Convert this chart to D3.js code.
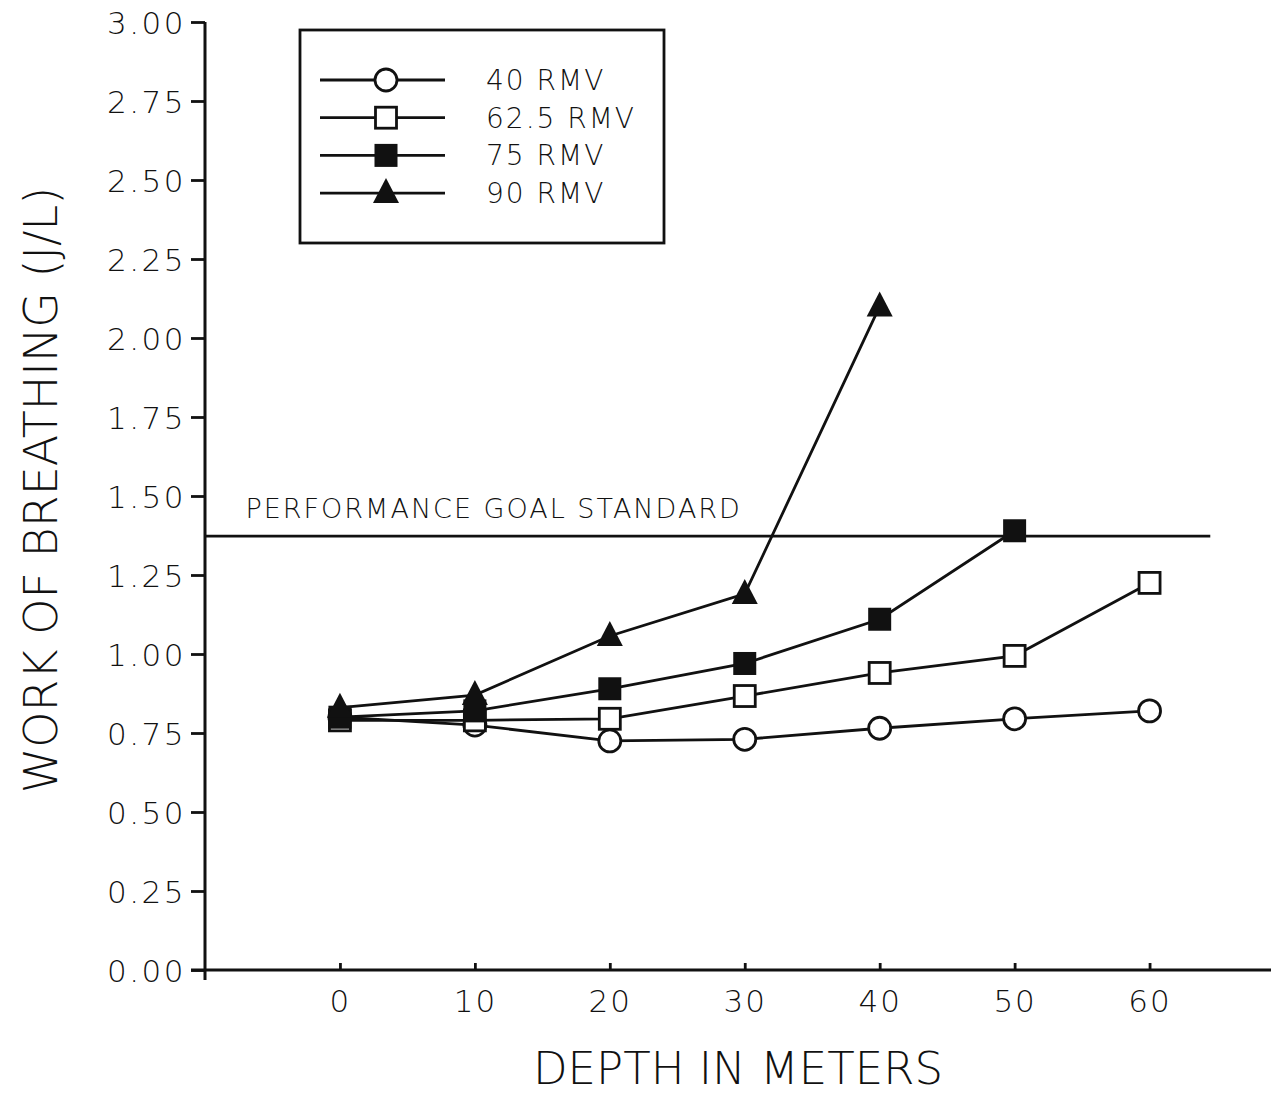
<!DOCTYPE html>
<html>
<head>
<meta charset="utf-8">
<script src="https://cdn.jsdelivr.net/npm/d3@7"></script>
<style>
  body { margin: 0; background: #fff; }
  svg text { font-family: "DejaVu Sans", sans-serif; font-weight: 200; fill: #111; }
</style>
</head>
<body>
<svg id="chart" width="1274" height="1096"></svg>
<script>
// depth in meters
const depths = [0, 10, 20, 30, 40, 50, 60];

// work of breathing (J/L) per series
const rmv40 = [0.80, 0.775, 0.725, 0.73, 0.765, 0.795, 0.82];
const rmv62 = [0.79, 0.79, 0.795, 0.867, 0.94, 0.994, 1.225];
const rmv75 = [0.80, 0.82, 0.89, 0.97, 1.11, 1.39];
const rmv90 = [0.83, 0.87, 1.057, 1.19, 2.10];

const seriesNames = ['40 RMV', '62.5 RMV', '75 RMV', '90 RMV'];
const seriesShapes = ['circle', 'openSquare', 'filledSquare', 'triangle'];
const yTicks = [0, 0.25, 0.5, 0.75, 1.0, 1.25, 1.5, 1.75, 2.0, 2.25, 2.5, 2.75, 3.0];
const goalValue = 1.373;
const goalLabel = 'PERFORMANCE GOAL STANDARD';

const svg = d3.select('#chart');
const x = d3.scaleLinear().domain([-10, 69]).range([205, 1271]);
const y = d3.scaleLinear().domain([0, 3]).range([970, 22]);

const ink = '#111';
const sw = 2.8;

// y axis
const yAxis = svg.append('g')
    .attr('transform', `translate(${x(-10)},0)`)
    .call(d3.axisLeft(y).tickValues(yTicks).tickFormat(d3.format('.2f')).tickSize(14).tickPadding(5));
yAxis.select('.domain').remove();
yAxis.selectAll('line').attr('stroke', ink).attr('stroke-width', sw);
yAxis.selectAll('text').style('font-size', '31px').style('letter-spacing', '2.5px').attr('dy', '0.36em');
svg.append('line')
    .attr('x1', x(-10)).attr('x2', x(-10))
    .attr('y1', y(3)).attr('y2', y(0) + 10)
    .attr('stroke', ink).attr('stroke-width', 3);

// x axis
const xAxis = svg.append('g')
    .attr('transform', `translate(0,${y(0)})`)
    .call(d3.axisBottom(x).tickValues(depths).tickSize(-7).tickPadding(20));
xAxis.select('.domain').remove();
xAxis.selectAll('line').attr('stroke', ink).attr('stroke-width', sw);
xAxis.selectAll('text').style('font-size', '31px').style('letter-spacing', '2px');
svg.append('line')
    .attr('x1', x(-10) - 14).attr('x2', x(69))
    .attr('y1', y(0)).attr('y2', y(0))
    .attr('stroke', ink).attr('stroke-width', 3);

// axis titles
svg.append('text')
    .attr('transform', `translate(57,490) rotate(-90)`)
    .attr('text-anchor', 'middle')
    .style('font-size', '46px')
    .text('WORK OF BREATHING (J/L)');
svg.append('text')
    .attr('x', x(29.5)).attr('y', 1084)
    .attr('text-anchor', 'middle')
    .style('font-size', '45px')
    .text('DEPTH IN METERS');

// performance goal line
svg.append('line')
    .attr('x1', x(-10)).attr('x2', x(64.5))
    .attr('y1', y(goalValue)).attr('y2', y(goalValue))
    .attr('stroke', ink).attr('stroke-width', sw);
svg.append('text')
    .attr('x', x(-7)).attr('y', y(goalValue) - 18)
    .style('font-size', '27px').style('letter-spacing', '2px')
    .text(goalLabel);

// marker drawing
function drawMarker(g, shape, cx, cy) {
    if (shape === 'circle') {
        g.append('circle').attr('cx', cx).attr('cy', cy).attr('r', 11)
            .attr('fill', '#fff').attr('stroke', ink).attr('stroke-width', sw);
    } else if (shape === 'openSquare') {
        g.append('rect').attr('x', cx - 10.5).attr('y', cy - 10.5).attr('width', 21).attr('height', 21)
            .attr('fill', '#fff').attr('stroke', ink).attr('stroke-width', sw);
    } else if (shape === 'filledSquare') {
        g.append('rect').attr('x', cx - 11.5).attr('y', cy - 11.5).attr('width', 23).attr('height', 23)
            .attr('fill', ink);
    } else {
        g.append('path').attr('d', `M${cx},${cy - 15}L${cx + 13},${cy + 10}L${cx - 13},${cy + 10}Z`)
            .attr('fill', ink);
    }
}

const seriesValues = [rmv40, rmv62, rmv75, rmv90];
const line = d3.line().x(d => x(d[0])).y(d => y(d[1]));

// lines first, then markers on top
const plot = svg.append('g');
seriesValues.forEach(vals => {
    const pts = vals.map((v, i) => [depths[i], v]);
    plot.append('path').datum(pts).attr('d', line)
        .attr('fill', 'none').attr('stroke', ink).attr('stroke-width', sw);
});
seriesValues.forEach((vals, s) => {
    vals.forEach((v, i) => drawMarker(plot, seriesShapes[s], x(depths[i]), y(v)));
});

// legend
const legend = svg.append('g');
legend.append('rect')
    .attr('x', 300).attr('y', 30).attr('width', 364).attr('height', 213)
    .attr('fill', '#fff').attr('stroke', ink).attr('stroke-width', sw);
seriesNames.forEach((name, i) => {
    const ly = 80 + i * 37.7;
    legend.append('line').attr('x1', 320).attr('x2', 445).attr('y1', ly).attr('y2', ly)
        .attr('stroke', ink).attr('stroke-width', sw);
    drawMarker(legend, seriesShapes[i], 386, ly);
    legend.append('text').attr('x', 486).attr('y', ly).attr('dy', '0.36em')
        .style('font-size', '28px').style('letter-spacing', '2px').text(name);
});
</script>
</body>
</html>
